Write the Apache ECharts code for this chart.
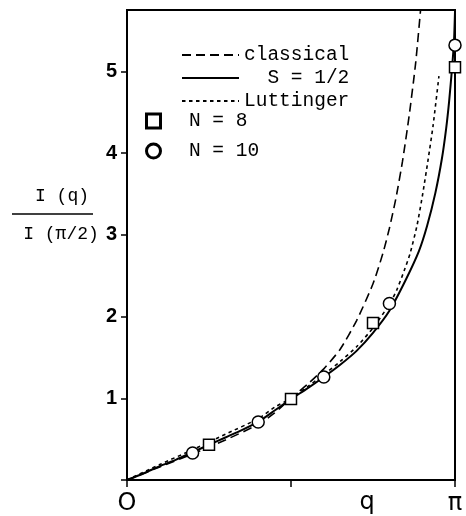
<!DOCTYPE html>
<html><head><meta charset="utf-8">
<script src="https://cdn.jsdelivr.net/npm/echarts@6/dist/echarts.min.js"></script>
<style>html,body{margin:0;padding:0;background:#fff}#c{width:466px;height:516px}</style>
</head><body><div id="c"></div>
<script>
// q in units of pi
const qClassical = [0, 0.1, 0.2, 0.3, 0.4, 0.45, 0.5, 0.55, 0.6, 0.65, 0.7, 0.75, 0.78, 0.8, 0.82, 0.84, 0.86, 0.88, 0.895];
const vClassical = [0, 0.16, 0.32, 0.49, 0.68, 0.82, 1.0, 1.17, 1.36, 1.60, 1.95, 2.40, 2.77, 3.08, 3.45, 3.9, 4.45, 5.1, 5.75];

const qHalf = [0, 0.05, 0.1, 0.15, 0.2, 0.25, 0.3, 0.35, 0.4, 0.45, 0.5, 0.55, 0.6, 0.65, 0.7, 0.75, 0.8, 0.85, 0.89, 0.915, 0.94, 0.96, 0.973, 0.982, 0.991, 0.997, 1.0];
const vHalf = [0, 0.08, 0.17, 0.25, 0.34, 0.43, 0.52, 0.61, 0.71, 0.85, 0.99, 1.12, 1.26, 1.41, 1.58, 1.80, 2.07, 2.45, 2.80, 3.11, 3.51, 3.93, 4.30, 4.63, 5.04, 5.37, 5.73];

const qLutt = [0, 0.1, 0.2, 0.3, 0.4, 0.45, 0.5, 0.55, 0.6, 0.65, 0.7, 0.75, 0.8, 0.822, 0.845, 0.863, 0.884, 0.902, 0.918, 0.933, 0.951];
const vLutt = [0, 0.19, 0.37, 0.56, 0.75, 0.89, 1.0, 1.14, 1.29, 1.45, 1.63, 1.86, 2.15, 2.32, 2.56, 2.77, 3.11, 3.51, 3.92, 4.33, 4.94];

const qN8 = [0.25, 0.5, 0.75, 1.0];
const vN8 = [0.43, 0.99, 1.92, 5.05];
const qN10 = [0.2, 0.4, 0.6, 0.8, 1.0];
const vN10 = [0.33, 0.71, 1.26, 2.16, 5.32];

const yTicks = [0, 1, 2, 3, 4, 5];
const xTicks = [0, 0.5, 1];
const xTickLabels = {0: 'O', 1: 'π'};
const names = ['classical', 'S = 1/2', 'Luttinger', 'N = 8', 'N = 10'];

const pair = (xs, ys) => xs.map((x, i) => [x, ys[i]]);
const mono = '"Liberation Mono", "DejaVu Sans Mono", monospace';

const chart = echarts.init(document.getElementById('c'), null, {renderer: 'canvas'});
chart.setOption({
  animation: false,
  backgroundColor: '#fff',
  grid: {left: 127, right: 11, top: 10, bottom: 36, show: true, borderColor: '#000', borderWidth: 2},
  xAxis: {
    type: 'value', min: 0, max: 1, interval: 0.5,
    axisLine: {lineStyle: {color: '#000', width: 2}},
    axisTick: {length: 7, lineStyle: {color: '#000', width: 1.5}, customValues: xTicks},
    splitLine: {show: false},
    axisLabel: {customValues: xTicks, formatter: v => xTickLabels[v] || '', color: '#000', fontSize: 24,
      fontFamily: '"DejaVu Sans", sans-serif', margin: 12}
  },
  yAxis: {
    type: 'value', min: 0, max: 5.75, interval: 1,
    axisLine: {lineStyle: {color: '#000', width: 2}},
    axisTick: {length: 6, lineStyle: {color: '#000', width: 1.5}, customValues: yTicks},
    splitLine: {show: false},
    axisLabel: {customValues: yTicks, formatter: v => v === 0 ? '' : String(v), color: '#000', fontSize: 20,
      fontWeight: 'bold', fontFamily: '"Liberation Sans", Arial, sans-serif', margin: 10}
  },
  legend: [
    {
      data: names.slice(0, 3), orient: 'vertical', left: 176, top: 40,
      itemWidth: 57, itemHeight: 12, itemGap: 3,
      formatter: n => n.padStart(9, ' '),
      itemStyle: {opacity: 0},
      textStyle: {fontFamily: mono, fontSize: 19.5, color: '#000'}
    },
    {
      data: names.slice(3), orient: 'vertical', left: 140, top: 106,
      itemWidth: 14, itemHeight: 14, itemGap: 10,
      formatter: n => '  ' + n,
      itemStyle: {borderWidth: 3, borderColor: '#000', color: '#fff', opacity: 1},
      textStyle: {fontFamily: mono, fontSize: 19.5, color: '#000'}
    }
  ],
  graphic: [
    {type: 'text', x: 62, y: 196, style: {text: 'I (q)', fontFamily: mono, fontSize: 18, fill: '#000', align: 'center', verticalAlign: 'middle'}},
    {type: 'line', shape: {x1: 12, y1: 214, x2: 93, y2: 214}, style: {stroke: '#000', lineWidth: 1.5}},
    {type: 'text', x: 61, y: 234, style: {text: 'I (π/2)', fontFamily: mono, fontSize: 18, fill: '#000', align: 'center', verticalAlign: 'middle'}},
    {type: 'text', x: 367, y: 503, style: {text: 'q', fontFamily: '"DejaVu Sans", sans-serif', fontSize: 24, fill: '#000', align: 'center', verticalAlign: 'middle'}}
  ],
  series: [
    {name: names[0], type: 'line', data: pair(qClassical, vClassical), symbol: 'none', smooth: 0.2, clip: true,
      lineStyle: {color: '#000', width: 1.6, type: [9, 5]}, itemStyle: {color: '#000'}, z: 2},
    {name: names[1], type: 'line', data: pair(qHalf, vHalf), symbol: 'none', smooth: 0.2, clip: true,
      lineStyle: {color: '#000', width: 2}, itemStyle: {color: '#000'}, z: 2},
    {name: names[2], type: 'line', data: pair(qLutt, vLutt), symbol: 'none', smooth: 0.2, clip: true,
      lineStyle: {color: '#000', width: 1.6, type: [3.5, 3.5]}, itemStyle: {color: '#000'}, z: 2},
    {name: names[3], type: 'scatter', data: pair(qN8, vN8), symbol: 'rect', symbolSize: 11, clip: false,
      itemStyle: {color: '#fff', borderColor: '#000', borderWidth: 1.5, opacity: 1}, z: 5},
    {name: names[4], type: 'scatter', data: pair(qN10, vN10), symbol: 'circle', symbolSize: 12, clip: false,
      itemStyle: {color: '#fff', borderColor: '#000', borderWidth: 1.5, opacity: 1}, z: 5}
  ]
});
</script>
</body></html>
